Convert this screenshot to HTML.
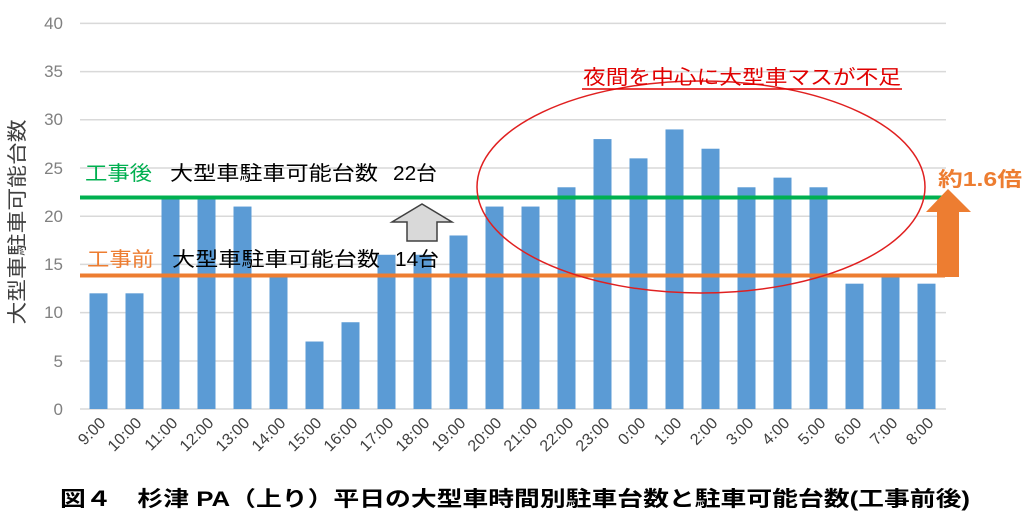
<!DOCTYPE html>
<html><head><meta charset="utf-8"><style>
body{margin:0;background:#fff;}
svg text{font-family:"Liberation Sans","Noto Sans CJK JP",sans-serif;}
</style></head><body>
<svg width="1026" height="523" xmlns="http://www.w3.org/2000/svg">
<g stroke="#d9d9d9" stroke-width="1.5">
<line x1="80" x2="946" y1="409" y2="409"/><line x1="80" x2="946" y1="361" y2="361"/>
<line x1="80" x2="946" y1="312.6" y2="312.6"/><line x1="80" x2="946" y1="264.4" y2="264.4"/>
<line x1="80" x2="946" y1="216.2" y2="216.2"/><line x1="80" x2="946" y1="168" y2="168"/>
<line x1="80" x2="946" y1="119.8" y2="119.8"/><line x1="80" x2="946" y1="71.6" y2="71.6"/>
<line x1="80" x2="946" y1="23.4" y2="23.4"/>
</g>
<g fill="#808080" font-size="17" text-anchor="end">
<text x="63" y="415">0</text><text x="63" y="367">5</text><text x="63" y="318">10</text>
<text x="63" y="270">15</text><text x="63" y="222">20</text><text x="63" y="174">25</text>
<text x="63" y="125">30</text><text x="63" y="77">35</text><text x="63" y="29">40</text>
</g>
<text transform="translate(24,222) rotate(-90)" text-anchor="middle" font-size="20" fill="#404040" textLength="205" lengthAdjust="spacingAndGlyphs">大型車駐車可能台数</text>
<g fill="#5b9bd5">
<rect x="89.5" y="293.32" width="18" height="115.68"/>
<rect x="125.5" y="293.32" width="18" height="115.68"/>
<rect x="161.5" y="196.92" width="18" height="212.08"/>
<rect x="197.5" y="196.92" width="18" height="212.08"/>
<rect x="233.5" y="206.56" width="18" height="202.44"/>
<rect x="269.5" y="274.04" width="18" height="134.96"/>
<rect x="305.5" y="341.52" width="18" height="67.48"/>
<rect x="341.5" y="322.24" width="18" height="86.76"/>
<rect x="377.5" y="254.76" width="18" height="154.24"/>
<rect x="413.5" y="254.76" width="18" height="154.24"/>
<rect x="449.5" y="235.48" width="18" height="173.52"/>
<rect x="485.5" y="206.56" width="18" height="202.44"/>
<rect x="521.5" y="206.56" width="18" height="202.44"/>
<rect x="557.5" y="187.28" width="18" height="221.72"/>
<rect x="593.5" y="139.08" width="18" height="269.92"/>
<rect x="629.5" y="158.36" width="18" height="250.64"/>
<rect x="665.5" y="129.44" width="18" height="279.56"/>
<rect x="701.5" y="148.72" width="18" height="260.28"/>
<rect x="737.5" y="187.28" width="18" height="221.72"/>
<rect x="773.5" y="177.64" width="18" height="231.36"/>
<rect x="809.5" y="187.28" width="18" height="221.72"/>
<rect x="845.5" y="283.68" width="18" height="125.32"/>
<rect x="881.5" y="274.04" width="18" height="134.96"/>
<rect x="917.5" y="283.68" width="18" height="125.32"/>
</g>
<g font-size="16" fill="#404040" text-anchor="end">
<text transform="translate(106.5,424) rotate(-45)">9:00</text>
<text transform="translate(142.5,424) rotate(-45)">10:00</text>
<text transform="translate(178.5,424) rotate(-45)">11:00</text>
<text transform="translate(214.5,424) rotate(-45)">12:00</text>
<text transform="translate(250.5,424) rotate(-45)">13:00</text>
<text transform="translate(286.5,424) rotate(-45)">14:00</text>
<text transform="translate(322.5,424) rotate(-45)">15:00</text>
<text transform="translate(358.5,424) rotate(-45)">16:00</text>
<text transform="translate(394.5,424) rotate(-45)">17:00</text>
<text transform="translate(430.5,424) rotate(-45)">18:00</text>
<text transform="translate(466.5,424) rotate(-45)">19:00</text>
<text transform="translate(502.5,424) rotate(-45)">20:00</text>
<text transform="translate(538.5,424) rotate(-45)">21:00</text>
<text transform="translate(574.5,424) rotate(-45)">22:00</text>
<text transform="translate(610.5,424) rotate(-45)">23:00</text>
<text transform="translate(646.5,424) rotate(-45)">0:00</text>
<text transform="translate(682.5,424) rotate(-45)">1:00</text>
<text transform="translate(718.5,424) rotate(-45)">2:00</text>
<text transform="translate(754.5,424) rotate(-45)">3:00</text>
<text transform="translate(790.5,424) rotate(-45)">4:00</text>
<text transform="translate(826.5,424) rotate(-45)">5:00</text>
<text transform="translate(862.5,424) rotate(-45)">6:00</text>
<text transform="translate(898.5,424) rotate(-45)">7:00</text>
<text transform="translate(934.5,424) rotate(-45)">8:00</text>
</g>
<line x1="80" x2="942" y1="197.5" y2="197.5" stroke="#00b050" stroke-width="4"/>
<line x1="80" x2="945" y1="275.5" y2="275.5" stroke="#ed7d31" stroke-width="4"/>
<polygon points="937,277 959,277 959,212 971,212 948,189 926,212 937,212" fill="#ed7d31"/>
<polygon points="407,241 437,241 437,222 452,222 422,204 392,222 407,222" fill="#d9d9d9" stroke="#404040" stroke-width="1.5"/>
<ellipse cx="701" cy="187" rx="224" ry="106" fill="none" stroke="#e02020" stroke-width="1.5"/>
<text x="583" y="84" font-size="20" fill="#e00000" textLength="318" lengthAdjust="spacingAndGlyphs">夜間を中心に大型車マスが不足</text>
<line x1="582" x2="902" y1="89" y2="89" stroke="#e00000" stroke-width="1.5"/>
<text x="938" y="186" font-size="20" font-weight="bold" fill="#ed7d31" textLength="84" lengthAdjust="spacingAndGlyphs">約1.6倍</text>
<text x="85" y="180" font-size="20" fill="#00b050" textLength="67" lengthAdjust="spacingAndGlyphs">工事後</text>
<text x="170" y="180" font-size="20" fill="#000" textLength="208" lengthAdjust="spacingAndGlyphs">大型車駐車可能台数</text>
<text x="393" y="180" font-size="20" fill="#000" textLength="44" lengthAdjust="spacingAndGlyphs">22台</text>
<text x="87" y="266" font-size="20" fill="#ed7d31" textLength="67" lengthAdjust="spacingAndGlyphs">工事前</text>
<text x="172" y="266" font-size="20" fill="#000" textLength="208" lengthAdjust="spacingAndGlyphs">大型車駐車可能台数</text>
<text x="395" y="266" font-size="20" fill="#000" textLength="44" lengthAdjust="spacingAndGlyphs">14台</text>
<text x="60" y="506" font-size="21" font-weight="bold" fill="#000" textLength="910" lengthAdjust="spacingAndGlyphs">図４　杉津 PA（上り）平日の大型車時間別駐車台数と駐車可能台数(工事前後)</text>
</svg>
</body></html>
